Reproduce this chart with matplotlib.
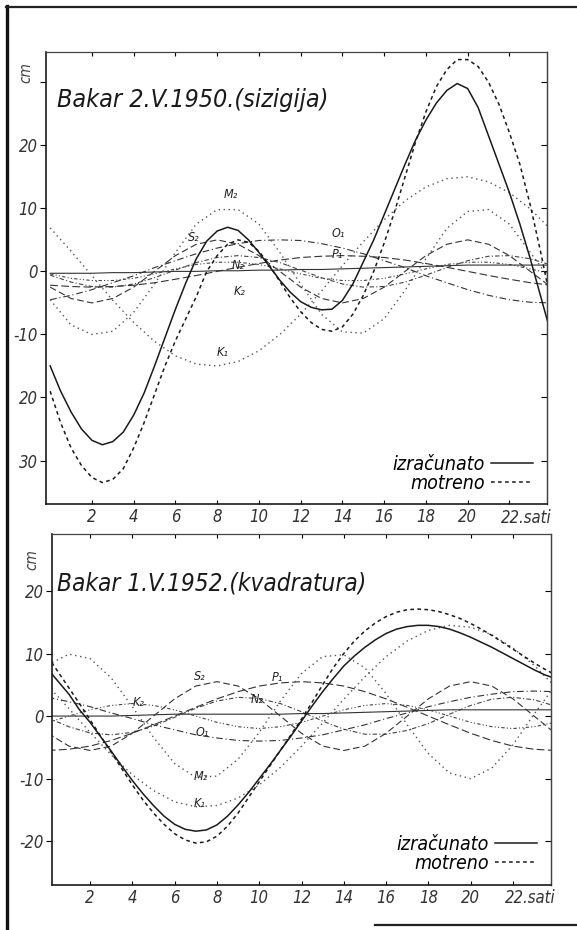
import numpy as np
import matplotlib
matplotlib.use("Agg")
import matplotlib.pyplot as plt
from matplotlib.lines import Line2D

plt.rcParams['font.family'] = ['DejaVu Sans Condensed', 'DejaVu Sans']
plt.rcParams['font.stretch'] = 'condensed'

# ---------------- data ----------------
hours = np.arange(0, 25, 1.0)          # hourly samples (components)
half_hours = np.arange(0, 24.5, 0.5)   # half-hourly samples (totals)

# Upper panel: Bakar 2.V.1950 (sizigija)
top_izracunato = [-15, -19, -22.3, -25, -26.8, -27.5, -27, -25.5, -22.8, -19.3, -15, -10.5,
                  -6, -1.8, 2, 4.8, 6.4, 7, 6.5, 5, 3, 0.8, -1.4, -3.3, -4.8, -5.7, -6.1, -6,
                  -4.6, -2, 1.5, 5, 9, 13, 17, 20.8, 24, 26.7, 28.7, 29.8, 29, 26, 21.5, 17,
                  12.5, 7.5, 2, -4, -10]
top_motreno = [-19, -24, -28, -30.8, -32.7, -33.5, -33, -31.3, -28, -24, -19.5, -15, -11,
               -7.5, -4, 0, 2.5, 4.3, 5, 4.6, 3.2, 1, -1.6, -4.2, -6.4, -8.1, -9.2, -9.5,
               -8.8, -6.8, -3.8, 0, 4.5, 9.5, 15, 20.5, 25.3, 29.3, 32, 33.6, 33.6, 32.5,
               30, 26.5, 22, 17, 10.5, 3, -5]
top_M2 = [-4.5, -8.5, -10, -9.5, -6.5, -2, 3, 7.5, 9.8, 9.8, 7.5, 3, -2, -6.8, -9.6, -9.8,
          -7.5, -3, 2, 6.8, 9.5, 9.8, 7.5, 3, -1.5]
top_K1 = [6.9, 3.2, -0.7, -4.6, -8.1, -11.1, -13.4, -14.7, -15.0, -14.3, -12.6, -10.0, -6.8,
          -3.1, 0.9, 4.7, 8.2, 11.2, 13.4, 14.7, 15.0, 14.2, 12.5, 9.9, 6.6]
top_S2 = [-2.5, -4.3, -5, -4.3, -2.5, 0, 2.5, 4.3, 5, 4.3, 2.5, 0, -2.5, -4.3, -5, -4.3, -2.5,
          0, 2.5, 4.3, 5, 4.3, 2.5, 0, -2.5]
top_O1 = [-4.5, -3.8, -2.9, -1.8, -0.7, 0.6, 1.7, 2.8, 3.7, 4.4, 4.9, 5, 4.9, 4.4, 3.7, 2.8,
          1.7, 0.6, -0.7, -1.8, -2.9, -3.8, -4.5, -4.9, -5.0]
top_P1 = [-2.2, -2.4, -2.5, -2.4, -2.2, -1.8, -1.25, -0.65, 0, 0.65, 1.25, 1.8, 2.2, 2.4, 2.5,
          2.4, 2.2, 1.8, 1.25, 0.65, 0, -0.65, -1.25, -1.8, -2.2]
top_N2 = [-0.6, -1.7, -2.4, -2.5, -2.0, -1.0, 0.2, 1.4, 2.2, 2.5, 2.2, 1.4, 0.2, -1.0, -2.0,
          -2.5, -2.4, -1.7, -0.6, 0.6, 1.7, 2.4, 2.5, 2.0, 1.0]
top_K2 = [-0.4, -1.1, -1.45, -1.45, -1.1, -0.4, 0.4, 1.1, 1.45, 1.45, 1.1, 0.4, -0.4, -1.1,
          -1.45, -1.45, -1.1, -0.4, 0.4, 1.1, 1.45, 1.45, 1.1, 0.4, -0.4]
top_Z0 = [-0.3, -0.3, -0.3, -0.2, -0.2, -0.1, 0, 0, 0.1, 0.1, 0.2, 0.2, 0.3, 0.3, 0.4, 0.5,
          0.6, 0.7, 0.8, 0.9, 1.0, 1.0, 1.0, 1.0, 1.0]

# Lower panel: Bakar 1.V.1952 (kvadratura)
bot_izracunato = [7.5, 5.5, 3.5, 1, -1, -3.3, -5.6, -8, -10.3, -12.4, -14.3, -16, -17.3,
                  -18.1, -18.4, -18.2, -17.4, -16, -14.2, -12.2, -10, -7.8, -5.5, -3.2, -0.8,
                  1.6, 3.9, 6, 8, 9.6, 11, 12.2, 13.2, 13.9, 14.3, 14.5, 14.5, 14.3, 13.9,
                  13.3, 12.6, 11.8, 11, 10.1, 9.2, 8.3, 7.4, 6.6, 6]
bot_motreno = [9.5, 7, 4.5, 2, -0.6, -3.2, -5.8, -8.4, -11, -13.4, -15.5, -17.3, -18.8,
               -19.8, -20.3, -20.1, -19.2, -17.6, -15.5, -13, -10.5, -8, -5.5, -3, -0.5,
               2.2, 5, 7.7, 10, 12, 13.6, 14.9, 15.9, 16.6, 17, 17.1, 17, 16.7, 16.2, 15.6,
               14.8, 13.9, 12.9, 11.8, 10.7, 9.6, 8.5, 7.5, 6.6]
bot_M2 = [8.2, 9.9, 9.2, 6.1, 1.5, -3.4, -7.6, -9.8, -9.6, -6.9, -2.6, 2.4, 6.8, 9.5, 9.8,
          7.7, 3.6, -1.4, -6.0, -9.1, -10, -8.3, -4.6, 0.3, 4.9]
bot_K1 = [4.9, 1.2, -2.6, -6.2, -9.4, -11.9, -13.7, -14.5, -14.3, -13.1, -11.0, -8.2, -4.8,
          -1.1, 2.7, 6.3, 9.5, 12.0, 13.7, 14.5, 14.2, 13.0, 10.9, 8.1, 4.7]
bot_S2 = [-2.75, -4.8, -5.5, -4.8, -2.75, 0, 2.75, 4.8, 5.5, 4.8, 2.75, 0, -2.75, -4.8, -5.5,
          -4.8, -2.75, 0, 2.75, 4.8, 5.5, 4.8, 2.75, 0, -2.75]
bot_P1 = [-5.5, -5.3, -4.8, -3.9, -2.75, -1.4, 0, 1.4, 2.75, 3.9, 4.8, 5.3, 5.5, 5.3, 4.8,
          3.9, 2.75, 1.4, 0, -1.4, -2.75, -3.9, -4.8, -5.3, -5.5]
bot_O1 = [3.0, 2.3, 1.5, 0.5, -0.4, -1.4, -2.2, -3.0, -3.5, -3.9, -4, -3.9, -3.5, -3.0, -2.2,
          -1.4, -0.4, 0.5, 1.5, 2.3, 3.0, 3.5, 3.9, 4.0, 3.9]
bot_K2 = [-1, 0, 1, 1.7, 2, 1.7, 1, 0, -1, -1.7, -2, -1.7, -1, 0, 1, 1.7, 2, 1.7, 1, 0, -1,
          -1.7, -2, -1.7, -1]
bot_N2 = [-0.3, -1.7, -2.7, -3.0, -2.6, -1.6, -0.2, 1.25, 2.4, 3.0, 2.8, 2.0, 0.7, -0.8, -2.1,
          -2.9, -2.9, -2.3, -1.2, 0.3, 1.7, 2.7, 3.0, 2.6, 1.6]
bot_Z0 = [0, 0, 0, 0, 0.1, 0.2, 0.3, 0.3, 0.3, 0.3, 0.3, 0.3, 0.4, 0.4, 0.5, 0.6, 0.7, 0.8,
          0.9, 1.0, 1.0, 1.0, 1.0, 1.0, 1.0]

x_ticks = [2, 4, 6, 8, 10, 12, 14, 16, 18, 20, 22]
x_ticklabels = ['2', '4', '6', '8', '10', '12', '14', '16', '18', '20', '']
top_yticks = [30, 20, 10, 0, -10, -20, -30]
top_yticklabels = ['', '20', '10', '0', '-10', '20', '30']
bot_yticks = [20, 10, 0, -10, -20]
bot_yticklabels = ['20', '10', '0', '-10', '-20']

top_title = 'Bakar 2.V.1950.(sizigija)'
bot_title = 'Bakar 1.V.1952.(kvadratura)'
legend_labels = ['izračunato', 'motreno']

top_component_labels = [('M₂', 8.3, 12.2), ('S₂', 6.6, 5.3), ('N₂', 8.7, 1.0),
                        ('K₂', 8.8, -3.2), ('K₁', 8.0, -12.8), ('O₁', 13.5, 6.0),
                        ('P₁', 13.5, 2.6)]
bot_component_labels = [('S₂', 6.9, 6.3), ('P₁', 10.6, 6.1), ('K₂', 4.0, 2.2),
                        ('N₂', 9.6, 2.6), ('O₁', 7.0, -2.6), ('M₂', 6.9, -9.6),
                        ('K₁', 6.9, -14.0)]

# ---------------- figure ----------------
W, H = 577, 930
fig = plt.figure(figsize=(W / 100, H / 100), dpi=100)
fig.patch.set_facecolor('white')

def px_axes(l, t, r, b):
    return fig.add_axes([l / W, 1 - b / H, (r - l) / W, (b - t) / H])

ax1 = px_axes(46, 52, 547, 504)
ax2 = px_axes(52, 534, 551, 885)

INK = '#1a1a1a'
FAINT = '#555555'
main_solid = dict(color=INK, lw=1.1, ls='-')
main_dash = dict(color=INK, lw=1.1, ls=(0, (2.4, 2.2)))

comp_styles = {
    'M2': dict(color=FAINT, lw=1.0, ls=(0, (1, 2.6))),
    'K1': dict(color=FAINT, lw=1.0, ls=(0, (1, 2.6))),
    'S2': dict(color='#333333', lw=0.8, ls=(0, (6, 3))),
    'O1': dict(color='#333333', lw=0.8, ls=(0, (6, 2.5, 1, 2.5))),
    'P1': dict(color='#333333', lw=0.8, ls=(0, (7, 3))),
    'N2': dict(color='#444444', lw=0.8, ls=(0, (4, 2, 1, 2))),
    'K2': dict(color='#444444', lw=0.8, ls=(0, (3, 2, 1, 2, 1, 2))),
    'Z0': dict(color='#333333', lw=0.8, ls='-'),
}

TICKFONT = dict(fontsize=12, style='italic', color='#333333')

def style_axes(ax, xlim, ylim, yticks, yticklabels):
    ax.set_xlim(*xlim)
    ax.set_ylim(*ylim)
    ax.set_xticks(x_ticks)
    ax.set_xticklabels(x_ticklabels, **TICKFONT)
    ax.set_yticks(yticks)
    ax.set_yticklabels(yticklabels, **TICKFONT)
    ax.tick_params(axis='x', direction='in', length=3, width=0.8, pad=3, top=True)
    ax.tick_params(axis='y', direction='out', length=4, width=0.8, pad=2)
    sec = ax.secondary_yaxis('right')
    sec.set_yticks(yticks)
    sec.tick_params(direction='in', length=4, width=0.8, labelright=False)
    sec.spines['right'].set_linewidth(0.9)
    sec.spines['right'].set_color('#444444')
    for side in ['left', 'bottom']:
        ax.spines[side].set_linewidth(1.2)
        ax.spines[side].set_color(INK)
    for side in ['top', 'right']:
        ax.spines[side].set_linewidth(0.9)
        ax.spines[side].set_color('#444444')
    ax.set_facecolor('white')
    # "22.sati" label
    ax.text(21.6, -0.012, '22.sati', transform=ax.get_xaxis_transform(),
            ha='left', va='top', **TICKFONT)

def draw_panel(ax, comps, izr, mot):
    for key, vals in comps:
        ax.plot(hours, vals, **comp_styles[key])
    ax.plot(half_hours, mot, **main_dash)
    ax.plot(half_hours, izr, **main_solid)

draw_panel(ax1, [('Z0', top_Z0), ('K2', top_K2), ('N2', top_N2), ('P1', top_P1),
                 ('O1', top_O1), ('S2', top_S2), ('K1', top_K1), ('M2', top_M2)],
           top_izracunato, top_motreno)
draw_panel(ax2, [('Z0', bot_Z0), ('K2', bot_K2), ('N2', bot_N2), ('P1', bot_P1),
                 ('O1', bot_O1), ('S2', bot_S2), ('K1', bot_K1), ('M2', bot_M2)],
           bot_izracunato, bot_motreno)

style_axes(ax1, (-0.2, 23.8), (-36.9, 34.8), top_yticks, top_yticklabels)
style_axes(ax2, (0.2, 23.8), (-27.0, 29.1), bot_yticks, bot_yticklabels)

# titles inside the panels
ax1.text(0.35, 26.0, top_title, fontsize=18, style='italic', color=INK,
         ha='left', va='baseline')
ax2.text(0.45, 20.0, bot_title, fontsize=17.5, style='italic', color=INK,
         ha='left', va='baseline')

# "cm" units
ax1.text(-0.04, 31.5, 'cm', transform=ax1.get_yaxis_transform(), rotation=90,
         ha='center', va='center', fontsize=11, style='italic', color='#444444')
ax2.text(-0.04, 25.0, 'cm', transform=ax2.get_yaxis_transform(), rotation=90,
         ha='center', va='center', fontsize=11, style='italic', color='#444444')

# component labels
for ax, labels in [(ax1, top_component_labels), (ax2, bot_component_labels)]:
    for txt, xx, yy in labels:
        ax.text(xx, yy, txt, fontsize=9, style='italic', color='#222222',
                ha='left', va='center')

# legends
handles = [Line2D([], [], **main_solid), Line2D([], [], **main_dash)]
for ax in (ax1, ax2):
    ax.legend(handles, legend_labels, loc='lower right', bbox_to_anchor=(1.0, -0.005),
              frameon=False, markerfirst=False, handlelength=2.2, handletextpad=0.3,
              labelspacing=0.0, borderaxespad=0.3,
              prop={'style': 'italic', 'size': 14, 'stretch': 'condensed'})

# outer frame of the scanned page
fig.add_artist(Line2D([7 / W, 7 / W], [0, 1 - 6 / H], transform=fig.transFigure,
                      color='#111111', lw=2.4))
fig.add_artist(Line2D([6 / W, 1], [1 - 7 / H, 1 - 7 / H], transform=fig.transFigure,
                      color='#222222', lw=1.6))
fig.add_artist(Line2D([375 / W, 1], [1 - 925 / H, 1 - 925 / H], transform=fig.transFigure,
                      color='#222222', lw=1.6))

fig.savefig('out.png', dpi=100, facecolor='white')
